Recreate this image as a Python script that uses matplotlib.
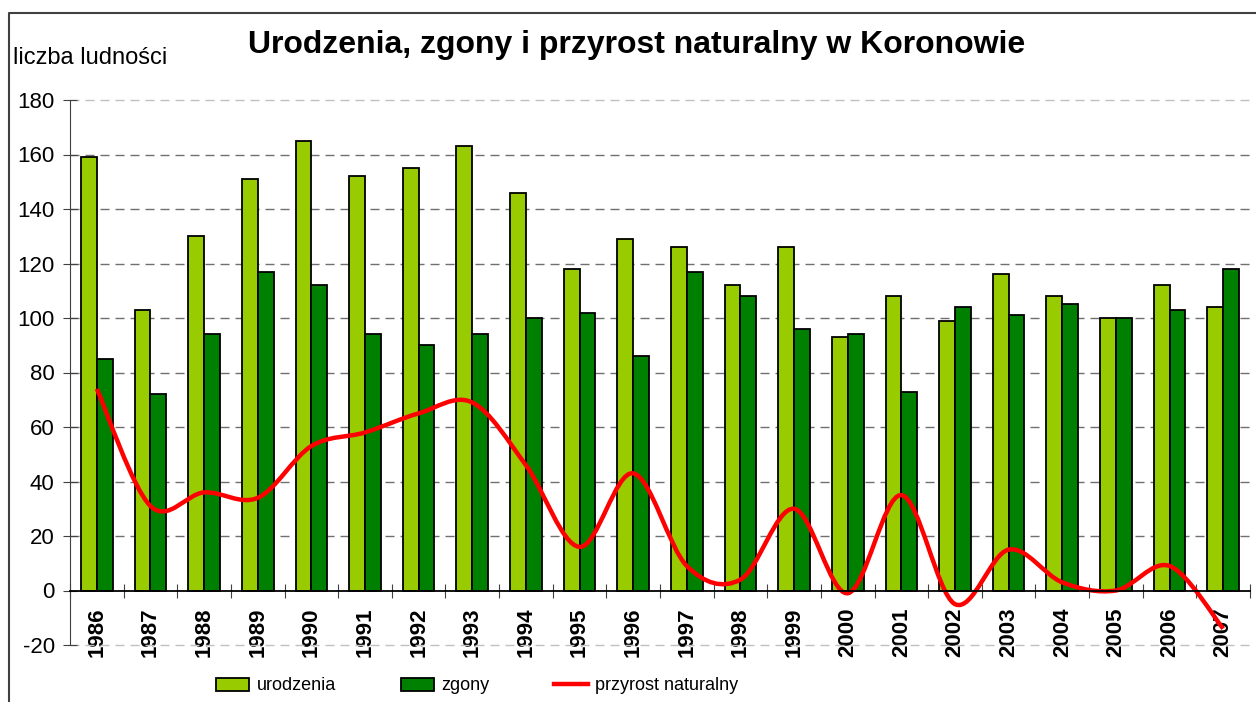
# -*- coding: utf-8 -*-
"""
Urodzenia, zgony i przyrost naturalny w Koronowie 1986-2007.
"""
import numpy as np
import matplotlib
matplotlib.use("Agg")
import matplotlib.pyplot as plt
from matplotlib.path import Path
from matplotlib.patches import PathPatch, Patch
from matplotlib.lines import Line2D

#Data
years = ['1986', '1987', '1988', '1989', '1990', '1991', '1992', '1993',
         '1994', '1995', '1996', '1997', '1998', '1999', '2000', '2001',
         '2002', '2003', '2004', '2005', '2006', '2007']
urodzenia = [159, 103, 130, 151, 165, 152, 155, 163, 146, 118, 129, 126,
             112, 126, 93, 108, 99, 116, 108, 100, 112, 104]
zgony = [85, 72, 94, 117, 112, 94, 90, 94, 100, 102, 86, 117,
         108, 96, 94, 73, 104, 101, 105, 100, 103, 118]
przyrost = [74, 31, 36, 34, 53, 58, 65, 69, 46, 16, 43, 9,
            4, 30, -1, 35, -5, 15, 3, 0, 9, -14]
y_ticks = [-20, 0, 20, 40, 60, 80, 100, 120, 140, 160, 180]

#Arial look-alike font, plain hyphen for negative numbers
plt.rcParams['font.family'] = ['Liberation Sans', 'DejaVu Sans']
plt.rcParams['axes.unicode_minus'] = False

fig = plt.figure(figsize=(12.56, 7.02), dpi=100)
ax = fig.add_axes([70/1256, 1 - 645/702, 1180/1256, 545/702])

#Spines first - moving the bottom spine resets the ticks
ax.spines['top'].set_visible(False)
ax.spines['right'].set_visible(False)
ax.spines['left'].set_color('#404040')
ax.spines['left'].set_linewidth(0.8)
ax.spines['bottom'].set_position(('data', 0))
ax.spines['bottom'].set_color('black')
ax.spines['bottom'].set_linewidth(1.3)
ax.spines['bottom'].set_zorder(5)

x = np.arange(len(years))
w = 0.295
ax.bar(x - w/2, urodzenia, w, color='#99cc00', edgecolor='black', linewidth=1.3, zorder=3)
ax.bar(x + w/2, zgony, w, color='#008000', edgecolor='black', linewidth=1.3, zorder=3)

#Smoothed line (bezier segments through the points, like excel does it)
pts = np.column_stack([x, przyrost]).astype(float)
verts = [pts[0]]
codes = [Path.MOVETO]
for i in range(len(pts) - 1):
    p_prev = pts[i - 1] if i > 0 else pts[i]
    p_next2 = pts[i + 2] if i + 2 < len(pts) else pts[i + 1]
    c1 = pts[i] + (pts[i + 1] - p_prev) / 6.0
    c2 = pts[i + 1] - (p_next2 - pts[i]) / 6.0
    verts += [c1, c2, pts[i + 1]]
    codes += [Path.CURVE4, Path.CURVE4, Path.CURVE4]
ax.add_patch(PathPatch(Path(verts, codes), facecolor='none', edgecolor='#ff0000',
                       linewidth=3.2, capstyle='butt', joinstyle='round', zorder=4))

#Axes limits and ticks
ax.set_xlim(-0.5, len(years) - 0.5)
ax.set_ylim(-20, 180)
ax.set_yticks(y_ticks)
ax.tick_params(axis='y', direction='inout', length=10, width=0.8, color='#404040',
               labelsize=16, pad=6)
ax.set_xticks(x)
ax.set_xticklabels(years, rotation=90, fontweight='bold', fontsize=16, va='top')
ax.tick_params(axis='x', which='major', length=0, pad=12)
ax.set_xticks(np.arange(-0.5, len(years)), minor=True)
ax.tick_params(axis='x', which='minor', direction='inout', length=10, width=0.8, color='#404040')

#Grid: dark dashed inside, light at top and bottom
ax.set_axisbelow(True)
ax.yaxis.grid(True, linestyle=(0, (6.5, 4.3)), linewidth=1.0, color='#707070')
for val, gl in zip(y_ticks, ax.yaxis.get_gridlines()):
    if val in (180, -20):
        gl.set_color('#c0c0c0')
    if val == 0:
        gl.set_visible(False)
    gl.set_clip_on(False)

#Texts
fig.text(637/1256, 1 - 45/702, 'Urodzenia, zgony i przyrost naturalny w Koronowie',
         ha='center', va='center', fontsize=23, fontweight='bold')
fig.text(13/1256, 1 - 58/702, 'liczba ludności', ha='left', va='center', fontsize=17)

#Frame of the chart area (cut off at right and bottom)
fig.add_artist(Line2D([9/1256, 9/1256, 1.01], [-0.01, 1 - 13/702, 1 - 13/702],
                      transform=fig.transFigure, color='#404040', linewidth=1.5))

#Legend
handles = [Patch(facecolor='#99cc00', edgecolor='black', linewidth=1.3),
           Patch(facecolor='#008000', edgecolor='black', linewidth=1.3),
           Line2D([], [], color='#ff0000', linewidth=3.2)]
fig.legend(handles, ['urodzenia', 'zgony', 'przyrost naturalny'], loc='center',
           bbox_to_anchor=(477/1256, 1 - 686/702), ncol=3, frameon=False,
           prop={'size': 13}, handlelength=1.85,
           handleheight=0.75, handletextpad=0.4, columnspacing=3.6)

plt.savefig('out.png', dpi=100)
